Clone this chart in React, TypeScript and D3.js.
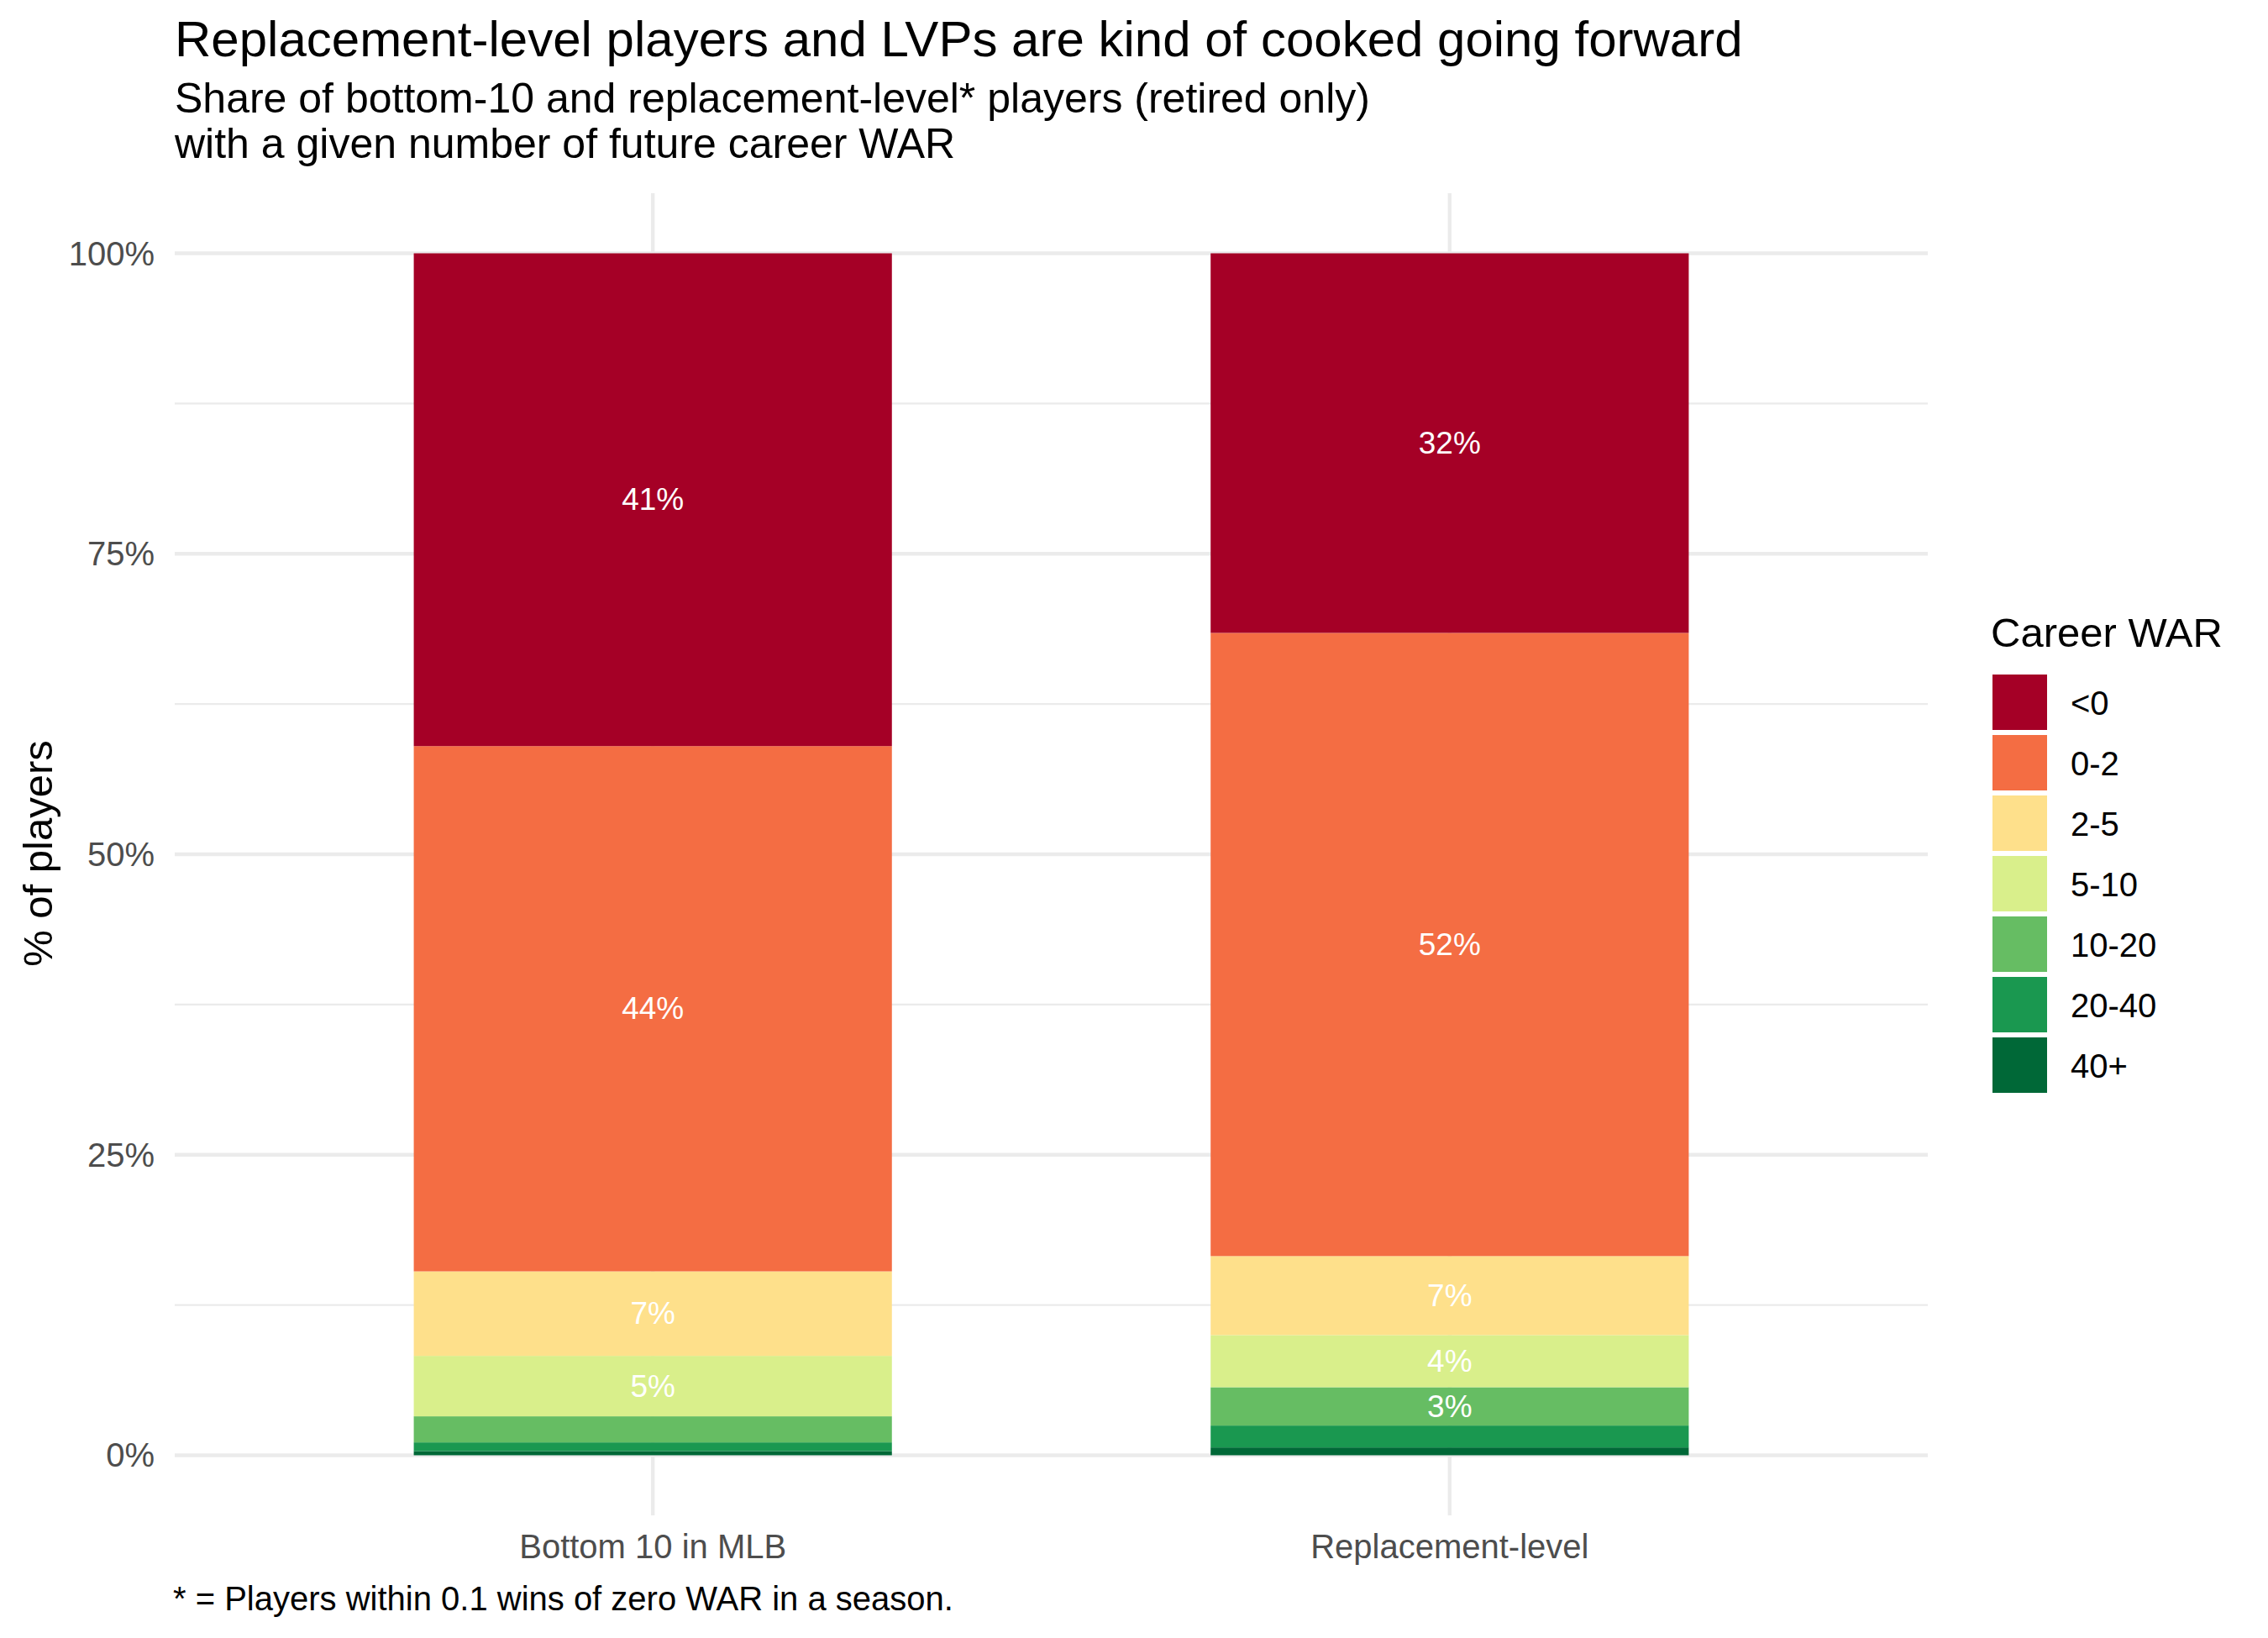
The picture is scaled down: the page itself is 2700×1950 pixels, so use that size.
import * as d3 from 'd3'

// career WAR buckets, top of the bar first
const warBins = ['<0', '0-2', '2-5', '5-10', '10-20', '20-40', '40+']
const binColors = ['#a50026', '#f46d43', '#fee08b', '#d9ef8b', '#66bd63', '#1a9850', '#006837']

const categories = ['Bottom 10 in MLB', 'Replacement-level']
// shares per bucket, same order as warBins
const bottom10Shares = [0.41, 0.437, 0.0703, 0.0503, 0.0217, 0.0072, 0.0035]
const replacementShares = [0.3158, 0.5185, 0.0657, 0.0434, 0.0319, 0.0182, 0.0065]

const yMajorTicks = [0, 0.25, 0.5, 0.75, 1]
const yMinorTicks = [0.125, 0.375, 0.625, 0.875]

const W = 2700
const H = 1950
const FONT = '"Liberation Sans", Arial, Helvetica, sans-serif'
const LABEL_MIN = 0.03

export default function App() {
  const panel = { left: 208, right: 2295, top: 230, bottom: 1804 }

  const x = d3.scalePoint<string>()
    .domain(categories)
    .range([panel.left, panel.right])
    .padding(0.6)
  const barW = x.step() * 0.6

  const y = d3.scaleLinear().domain([-0.05, 1.05]).range([panel.bottom, panel.top])

  const rows = categories.map((c, i) => {
    const vals = i === 0 ? bottom10Shares : replacementShares
    const row: Record<string, any> = { cat: c }
    warBins.forEach((b, j) => { row[b] = vals[j] })
    return row
  })
  // stack from the bottom (40+) upward
  const stackKeys = [...warBins].reverse()
  const stacked = d3.stack<Record<string, any>>().keys(stackKeys)(rows)
  const color = d3.scaleOrdinal<string, string>().domain(warBins).range(binColors)
  const pct = (v: number) => `${Math.round(v * 100)}%`

  return (
    <div style={{ position: 'absolute', left: 0, top: 0 }}>
      <svg width={W} height={H} viewBox={`0 0 ${W} ${H}`} style={{ display: 'block', background: '#fff' }} fontFamily={FONT}>
        <rect width={W} height={H} fill="#fff" />

        {/* titles */}
        <text x={208} y={67} fontSize={60} fill="#000">Replacement-level players and LVPs are kind of cooked going forward</text>
        <text x={208} y={134} fontSize={50} fill="#000">Share of bottom-10 and replacement-level* players (retired only)</text>
        <text x={208} y={188} fontSize={50} fill="#000">with a given number of future career WAR</text>

        {/* grid */}
        {yMinorTicks.map(t => (
          <line key={'mn' + t} x1={panel.left} x2={panel.right} y1={y(t)} y2={y(t)} stroke="#ebebeb" strokeWidth={2.2} />
        ))}
        {yMajorTicks.map(t => (
          <line key={'mj' + t} x1={panel.left} x2={panel.right} y1={y(t)} y2={y(t)} stroke="#ebebeb" strokeWidth={4.4} />
        ))}
        {categories.map(c => (
          <line key={'vx' + c} x1={x(c)} x2={x(c)} y1={panel.top} y2={panel.bottom} stroke="#ebebeb" strokeWidth={4.4} />
        ))}

        {/* bars */}
        {stacked.map(layer => (
          <g key={layer.key} fill={color(layer.key)}>
            {layer.map((d, i) => (
              <rect key={i}
                x={x(categories[i])! - barW / 2}
                y={y(d[1])}
                width={barW}
                height={y(d[0]) - y(d[1])} />
            ))}
          </g>
        ))}

        {/* segment labels */}
        {stacked.map(layer => layer.map((d, i) => {
          const v = d[1] - d[0]
          if (v < LABEL_MIN) return null
          return (
            <text key={layer.key + i} x={x(categories[i])} y={y((d[0] + d[1]) / 2)}
              textAnchor="middle" dominantBaseline="central" fontSize={37} fill="#fff">
              {pct(v)}
            </text>
          )
        }))}

        {/* y axis */}
        {yMajorTicks.map(t => (
          <text key={'yl' + t} x={184} y={y(t)} textAnchor="end" dominantBaseline="central" fontSize={40} fill="#4d4d4d">
            {pct(t)}
          </text>
        ))}
        <text transform={`translate(62,1016) rotate(-90)`} textAnchor="middle" fontSize={49} fill="#000">% of players</text>

        {/* x axis */}
        {categories.map(c => (
          <text key={'xl' + c} x={x(c)} y={1855} textAnchor="middle" fontSize={40} fill="#4d4d4d">{c}</text>
        ))}

        {/* caption */}
        <text x={206} y={1917} fontSize={40} fill="#000">* = Players within 0.1 wins of zero WAR in a season.</text>

        {/* legend */}
        <text x={2370} y={770} fontSize={49} fill="#000">Career WAR</text>
        {warBins.map((b, i) => (
          <g key={'lg' + b} transform={`translate(2372,${803 + i * 72})`}>
            <rect width={65} height={66} fill={color(b)} />
            <text x={93} y={34} dominantBaseline="central" fontSize={40} fill="#000">{b}</text>
          </g>
        ))}
      </svg>
    </div>
  )
}
